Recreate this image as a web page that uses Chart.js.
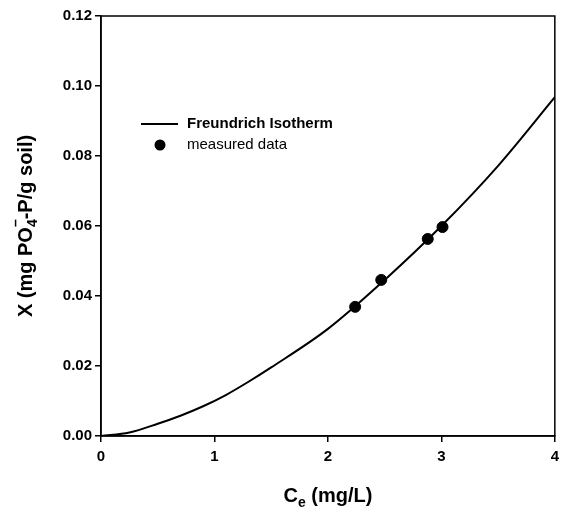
<!DOCTYPE html>
<html>
<head>
<meta charset="utf-8">
<script src="https://cdn.jsdelivr.net/npm/chart.js@4/dist/chart.umd.min.js"></script>
<style>
  html, body { margin: 0; padding: 0; background: #fff; }
  #wrap { width: 565px; height: 512px; }
</style>
</head>
<body>
<div id="wrap"><canvas id="isotherm" width="565" height="512"></canvas></div>
<script>
// Freundrich isotherm curve
var fitC = [0, 0.25, 0.5, 0.7, 0.9, 1.1, 1.3, 1.5, 2.0, 2.5, 3.0, 3.5, 4.0];
var fitX = [0, 0.0010, 0.0035, 0.0058, 0.0085, 0.0117, 0.0155, 0.0196, 0.0306, 0.0446, 0.0600, 0.0772, 0.0968];

// measured points
var measC = [2.24, 2.47, 2.88, 3.01];
var measX = [0.0369, 0.0446, 0.0563, 0.0597];

var seriesLabels = ["Freundrich Isotherm", "measured data"];
var xTicks = [0, 1, 2, 3, 4];
var yTicks = [0, 0.02, 0.04, 0.06, 0.08, 0.10, 0.12];

var FONT = '"Liberation Sans", Arial, Helvetica, sans-serif';

function toPoints(xs, ys) {
	var pts = [];
	for (var i = 0; i < xs.length; i++) pts.push({x: xs[i], y: ys[i]});
	return pts;
}

// draws a run of text pieces; each piece may be raised or lowered
function drawPieces(ctx, pieces, x, y) {
	var cx = x;
	pieces.forEach(function(p) {
		if (p.stack) {
			var w = 0;
			p.stack.forEach(function(s) {
				ctx.font = s.font;
				ctx.fillText(s.t, cx, y + s.dy);
				w = Math.max(w, ctx.measureText(s.t).width);
			});
			cx += w;
		} else {
			ctx.font = p.font;
			ctx.fillText(p.t, cx, y + (p.dy || 0));
			cx += ctx.measureText(p.t).width;
		}
	});
	return cx - x;
}

function piecesWidth(ctx, pieces) {
	var w = 0;
	pieces.forEach(function(p) {
		if (p.stack) {
			var m = 0;
			p.stack.forEach(function(s) { ctx.font = s.font; m = Math.max(m, ctx.measureText(s.t).width); });
			w += m;
		} else {
			ctx.font = p.font;
			w += ctx.measureText(p.t).width;
		}
	});
	return w;
}

var big = "bold 20px " + FONT;
var small = "bold 14px " + FONT;

var extrasPlugin = {
	id: 'extras',
	afterDraw: function(chart) {
		var ctx = chart.ctx;
		var a = chart.chartArea;
		ctx.save();
		// frame on top and right
		ctx.strokeStyle = '#000';
		ctx.lineWidth = 1.5;
		ctx.strokeRect(a.left, a.top, a.right - a.left, a.bottom - a.top);

		ctx.fillStyle = '#000';
		ctx.textBaseline = 'alphabetic';
		ctx.textAlign = 'left';

		// x axis title
		var xt = [
			{t: 'C', font: big},
			{t: 'e', font: small, dy: 5},
			{t: ' (mg/L)', font: big}
		];
		var w = piecesWidth(ctx, xt);
		drawPieces(ctx, xt, (a.left + a.right) / 2 - w / 2, 502);

		// y axis title, rotated
		var yt = [
			{t: 'X (mg PO', font: big},
			{stack: [{t: '4', font: small, dy: 5}, {t: '\u2013', font: small, dy: -12}]},
			{t: '-P/g soil)', font: big}
		];
		w = piecesWidth(ctx, yt);
		ctx.translate(32, (a.top + a.bottom) / 2);
		ctx.rotate(-Math.PI / 2);
		drawPieces(ctx, yt, -w / 2, 0);
		ctx.restore();

		// legend
		ctx.save();
		var lx = a.left + 40, ly = a.top + 108;
		ctx.strokeStyle = '#000';
		ctx.lineWidth = 2;
		ctx.beginPath();
		ctx.moveTo(lx, ly);
		ctx.lineTo(lx + 37, ly);
		ctx.stroke();
		ctx.beginPath();
		ctx.arc(lx + 19, ly + 21, 5.5, 0, Math.PI * 2);
		ctx.fillStyle = '#000';
		ctx.fill();
		ctx.textBaseline = 'middle';
		ctx.font = "bold 15px " + FONT;
		ctx.fillText(chart.data.datasets[0].label, lx + 46, ly);
		ctx.font = "15px " + FONT;
		ctx.fillText(chart.data.datasets[1].label, lx + 46, ly + 21);
		ctx.restore();
	}
};

var ctx = document.getElementById('isotherm').getContext('2d');
var chart = new Chart(ctx, {
	type: 'scatter',
	data: {
		datasets: [{
			label: seriesLabels[0],
			data: toPoints(fitC, fitX),
			showLine: true,
			borderColor: '#000',
			borderWidth: 2,
			pointRadius: 0,
			cubicInterpolationMode: 'monotone',
			order: 2
		}, {
			label: seriesLabels[1],
			data: toPoints(measC, measX),
			pointRadius: 5.5,
			pointBackgroundColor: '#000',
			pointBorderColor: '#000',
			showLine: false,
			order: 1
		}]
	},
	options: {
		responsive: false,
		animation: false,
		layout: {padding: {left: 0, right: 9, top: 16, bottom: 0}},
		plugins: {legend: {display: false}, tooltip: {enabled: false}},
		scales: {
			x: {
				type: 'linear',
				min: 0, max: 4,
				afterBuildTicks: function(s) { s.ticks = xTicks.map(function(v) { return {value: v}; }); },
				afterFit: function(s) { s.height = 76; },
				grid: {drawOnChartArea: false, drawTicks: true, tickLength: 6, color: '#000', lineWidth: 1.5},
				border: {display: true, color: '#000', width: 1.5},
				ticks: {color: '#000', font: {family: FONT, size: 15, weight: 'bold'}, padding: 6,
					callback: function(v) { return v; }}
			},
			y: {
				type: 'linear',
				min: 0, max: 0.12,
				afterBuildTicks: function(s) { s.ticks = yTicks.map(function(v) { return {value: v}; }); },
				afterFit: function(s) { s.width = 101; },
				grid: {drawOnChartArea: false, drawTicks: true, tickLength: 6, color: '#000', lineWidth: 1.5},
				border: {display: true, color: '#000', width: 1.5},
				ticks: {color: '#000', font: {family: FONT, size: 15, weight: 'bold'}, padding: 3,
					callback: function(v) { return v.toFixed(2); }}
			}
		}
	},
	plugins: [extrasPlugin]
});
</script>
</body>
</html>
